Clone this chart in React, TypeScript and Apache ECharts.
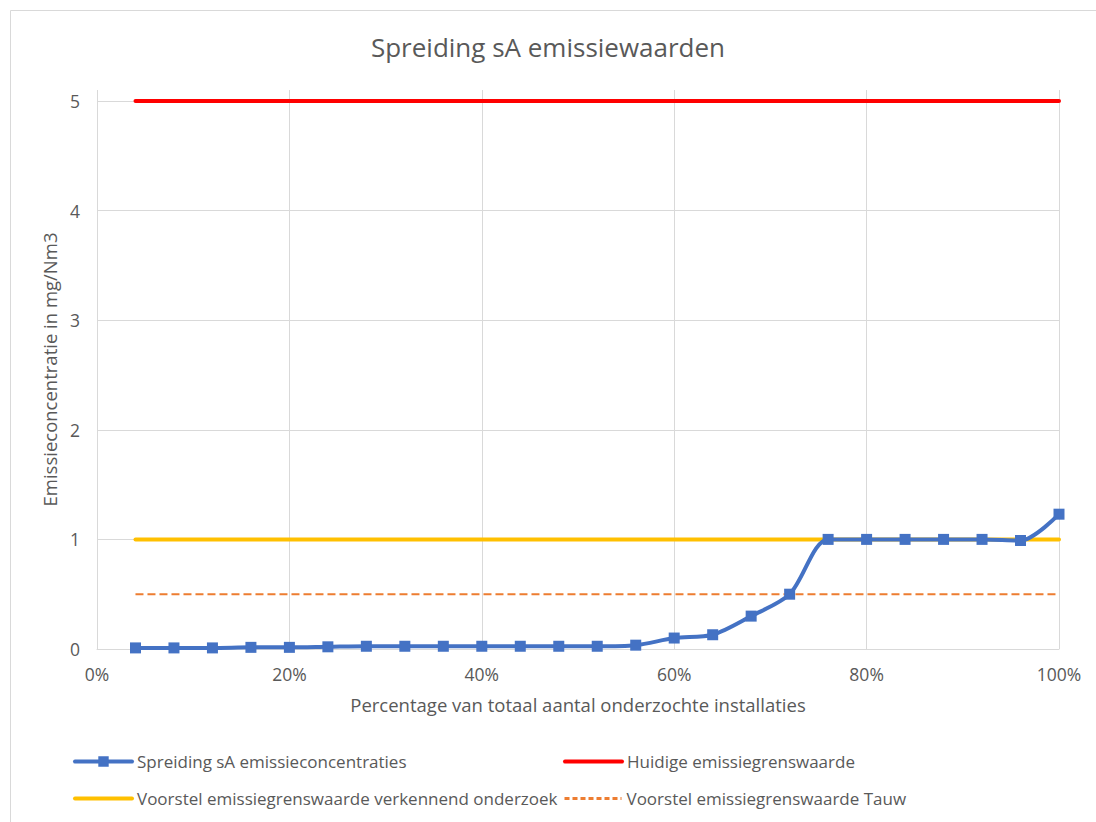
import React, { useEffect, useRef } from "react";
import * as echarts from "echarts";

const titleText = "Spreiding sA emissiewaarden";
const xAxisName = "Percentage van totaal aantal onderzochte installaties";
const yAxisName = "Emissieconcentratie in mg/Nm3";

const seriesNames = [
  "Spreiding sA emissieconcentraties",
  "Huidige emissiegrenswaarde",
  "Voorstel emissiegrenswaarde verkennend onderzoek",
  "Voorstel emissiegrenswaarde Tauw",
];

const xPct = [4, 8, 12, 16, 20, 24, 28, 32, 36, 40, 44, 48, 52, 56, 60, 64, 68, 72, 76, 80, 84, 88, 92, 96, 100];
const sAValues = [0.01, 0.01, 0.01, 0.015, 0.015, 0.02, 0.025, 0.025, 0.025, 0.025, 0.025, 0.025, 0.025, 0.035, 0.1, 0.13, 0.3, 0.5, 1.0, 1.0, 1.0, 1.0, 1.0, 0.99, 1.23];

const limitX = [4, 100];
const huidigeValues = [5, 5];
const voorstelValues = [1, 1];
const tauwValues = [0.5, 0.5];

const FONT = "Open Sans";
const TXT = "#595959";
const GRIDC = "#d9d9d9";

export default function App() {
  const ref = useRef<HTMLDivElement>(null);
  useEffect(() => {
    document.body.style.margin = "0";
    const chart = echarts.init(ref.current!, null, { renderer: "svg" });
    const pair = (xs: number[], ys: number[]) => xs.map((x, i) => [x, ys[i]]);
    const legendBase = {
      itemWidth: 57,
      itemHeight: 13,
      itemGap: 5,
      textStyle: { color: TXT, fontSize: 17, fontFamily: FONT },
    };
    const hiddenSym = { opacity: 0, color: "transparent", borderWidth: 0 };
    chart.setOption({
      animation: false,
      textStyle: { fontFamily: FONT },
      title: {
        text: titleText,
        left: "center",
        top: 29,
        textStyle: { color: TXT, fontSize: 26, fontWeight: "normal", fontFamily: FONT },
      },
      graphic: [
        {
          type: "rect",
          shape: { x: 10.5, y: 10.5, width: 1100, height: 840 },
          style: { fill: "none", stroke: GRIDC, lineWidth: 1 },
          silent: true,
        },
      ],
      grid: { left: 97, right: 37, top: 90, bottom: 173 },
      xAxis: {
        type: "value",
        min: 0,
        max: 100,
        interval: 20,
        name: xAxisName,
        nameLocation: "middle",
        nameGap: 46,
        nameTextStyle: { color: TXT, fontSize: 18.5, fontFamily: FONT },
        axisLine: { show: true, lineStyle: { color: GRIDC, width: 1 } },
        axisTick: { show: false },
        axisLabel: { color: TXT, fontSize: 17.5, margin: 16, formatter: "{value}%", fontFamily: FONT },
        splitLine: { show: true, lineStyle: { color: GRIDC, width: 1 } },
      },
      yAxis: {
        type: "value",
        min: 0,
        max: 5.1,
        interval: 1,
        name: yAxisName,
        nameLocation: "middle",
        nameGap: 34,
        nameTextStyle: { color: TXT, fontSize: 18.5, fontFamily: FONT },
        axisLine: { show: false },
        axisTick: { show: false },
        axisLabel: { color: TXT, fontSize: 17.5, margin: 17, showMaxLabel: false, fontFamily: FONT },
        splitLine: { show: true, showMaxLine: false, lineStyle: { color: GRIDC, width: 1 } },
      },
      legend: [
        { ...legendBase, left: 68, top: 748, lineStyle: { width: 4 }, data: [seriesNames[0]] },
        { ...legendBase, left: 558, top: 748, lineStyle: { width: 4 }, itemStyle: hiddenSym, data: [seriesNames[1]] },
        { ...legendBase, left: 68, top: 785, lineStyle: { width: 4 }, itemStyle: hiddenSym, data: [seriesNames[2]] },
        { ...legendBase, left: 558, top: 785, lineStyle: { width: 3, type: [5, 3] }, itemStyle: hiddenSym, data: [seriesNames[3]] },
      ],
      series: [
        {
          name: seriesNames[1],
          type: "line",
          data: pair(limitX, huidigeValues),
          symbol: "none",
          lineStyle: { color: "#FF0000", width: 4, cap: "round" },
          itemStyle: { color: "#FF0000" },
          z: 2,
        },
        {
          name: seriesNames[2],
          type: "line",
          data: pair(limitX, voorstelValues),
          symbol: "none",
          lineStyle: { color: "#FFC000", width: 4, cap: "round" },
          itemStyle: { color: "#FFC000" },
          z: 2,
        },
        {
          name: seriesNames[3],
          type: "line",
          data: pair(limitX, tauwValues),
          symbol: "none",
          lineStyle: { color: "#ED7D31", width: 2, type: [8, 4] },
          itemStyle: { color: "#ED7D31" },
          z: 2,
        },
        {
          name: seriesNames[0],
          type: "line",
          data: pair(xPct, sAValues),
          smooth: 0.3,
          symbol: "rect",
          symbolSize: 11,
          showAllSymbol: true,
          lineStyle: { color: "#4472C4", width: 4, cap: "round" },
          itemStyle: { color: "#4472C4" },
          z: 3,
        },
      ],
    });
    return () => chart.dispose();
  }, []);
  return <div ref={ref} style={{ width: 1096, height: 822 }} />;
}
